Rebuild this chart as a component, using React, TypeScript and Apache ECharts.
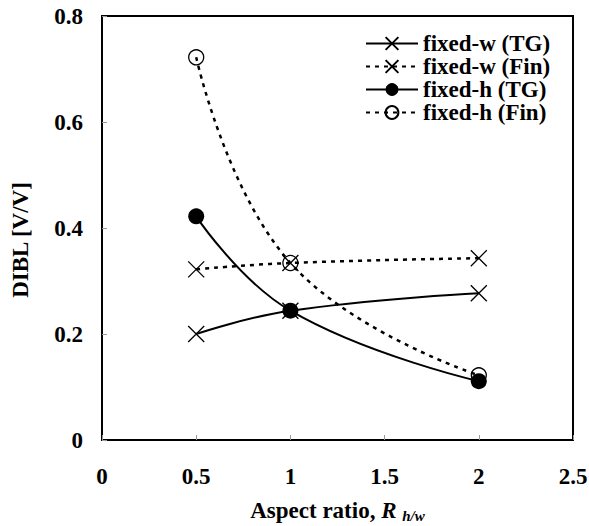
import React, { useEffect, useRef } from "react";
import * as echarts from "echarts";

const seriesNames = ["fixed-w (TG)", "fixed-w (Fin)", "fixed-h (TG)", "fixed-h (Fin)"];
const xValues = [0.5, 1, 2];
const fixedW_TG = [0.2, 0.244, 0.277];
const fixedW_Fin = [0.322, 0.334, 0.343];
const fixedH_TG = [0.422, 0.244, 0.111];
const fixedH_Fin = [0.722, 0.334, 0.122];
const xTicks = [0, 0.5, 1, 1.5, 2, 2.5];
const yTicks = [0, 0.2, 0.4, 0.6, 0.8];

const FONT = "'Liberation Serif', 'Times New Roman', serif";
const FS = 23;
const CROSS = "path://M0,0L10,10M10,0L0,10";

const pairs = (ys: number[]) => xValues.map((x, i) => [x, ys[i]]);

export default function App() {
  const ref = useRef<HTMLDivElement>(null);
  useEffect(() => {
    if (!ref.current) return;
    const chart = echarts.init(ref.current, null, { renderer: "svg" });
    const solid = { color: "#000", width: 2, type: "solid" as const };
    const dashed = { color: "#000", width: 2.5, type: [4, 5] as any };
    const crossStyle = { color: "rgba(0,0,0,0)", borderColor: "#000", borderWidth: 1.3 };
    chart.setOption({
      animation: false,
      backgroundColor: "#fff",
      grid: {
        left: 102,
        top: 16,
        right: 16,
        bottom: 86,
        show: true,
        borderColor: "#000",
        borderWidth: 2,
        containLabel: false,
        outerBoundsMode: "none",
      },
      legend: {
        orient: "vertical",
        left: 360,
        top: 27,
        itemWidth: 52,
        itemHeight: 16,
        itemGap: 0,
        data: seriesNames,
        textStyle: { fontFamily: FONT, fontWeight: "bold", fontSize: FS, color: "#000" },
      },
      xAxis: {
        type: "value",
        min: 0,
        max: 2.5,
        interval: 0.5,
        splitLine: { show: false },
        axisLine: { show: true, lineStyle: { color: "#000", width: 2 } },
        axisTick: { show: true, inside: true, length: 5, lineStyle: { color: "#999", width: 1 } },
        axisLabel: {
          margin: 25,
          fontFamily: FONT,
          fontWeight: "bold",
          fontSize: FS,
          color: "#000",
          formatter: (v: number) => String(xTicks.find((t) => Math.abs(t - v) < 1e-9) ?? v),
        },
        name: "Aspect ratio, {i|R} {s|h/w}",
        nameLocation: "middle",
        nameGap: 58,
        nameTextStyle: {
          fontFamily: FONT,
          fontWeight: "bold",
          fontSize: FS,
          color: "#000",
          rich: {
            i: { fontFamily: FONT, fontWeight: "bold", fontStyle: "italic", fontSize: FS, color: "#000" },
            s: {
              fontFamily: FONT,
              fontWeight: "bold",
              fontStyle: "italic",
              fontSize: 15,
              color: "#000",
              padding: [10, 0, 0, 0],
            },
          },
        },
      },
      yAxis: {
        type: "value",
        min: 0,
        max: 0.8,
        interval: 0.2,
        splitLine: { show: false },
        axisLine: { show: true, lineStyle: { color: "#000", width: 2 } },
        axisTick: { show: true, inside: true, length: 5, lineStyle: { color: "#999", width: 1 } },
        axisLabel: {
          margin: 19,
          fontFamily: FONT,
          fontWeight: "bold",
          fontSize: FS,
          color: "#000",
          formatter: (v: number) => {
            const t = yTicks.find((k) => Math.abs(k - v) < 1e-9);
            return t === 0 ? "0" : (t ?? v).toFixed(1);
          },
        },
      },
      graphic: [
        {
          type: "text",
          x: 20,
          y: 240,
          rotation: Math.PI / 2,
          style: {
            text: "DIBL [V/V]",
            fontFamily: FONT,
            fontWeight: "bold",
            fontSize: FS,
            fill: "#000",
            align: "center",
            verticalAlign: "middle",
          },
        },
      ],
      series: [
        {
          name: seriesNames[3],
          type: "line",
          data: pairs(fixedH_Fin),
          smooth: 0.45,
          symbol: "circle",
          symbolSize: 15,
          lineStyle: dashed,
          itemStyle: { color: "rgba(255,255,255,0)", borderColor: "#000", borderWidth: 1.3 },
          z: 2,
        },
        {
          name: seriesNames[0],
          type: "line",
          data: pairs(fixedW_TG),
          smooth: 0.45,
          symbol: CROSS,
          symbolSize: 16,
          lineStyle: solid,
          itemStyle: crossStyle,
          z: 3,
        },
        {
          name: seriesNames[1],
          type: "line",
          data: pairs(fixedW_Fin),
          smooth: 0.45,
          symbol: CROSS,
          symbolSize: 16,
          lineStyle: dashed,
          itemStyle: crossStyle,
          z: 3,
        },
        {
          name: seriesNames[2],
          type: "line",
          data: pairs(fixedH_TG),
          smooth: 0.45,
          symbol: "circle",
          symbolSize: 16,
          lineStyle: solid,
          itemStyle: { color: "#000", borderColor: "#000", borderWidth: 0 },
          z: 4,
        },
      ],
    });
    return () => chart.dispose();
  }, []);
  return <div ref={ref} style={{ width: 589, height: 526, position: "absolute", left: 0, top: 0 }} />;
}
